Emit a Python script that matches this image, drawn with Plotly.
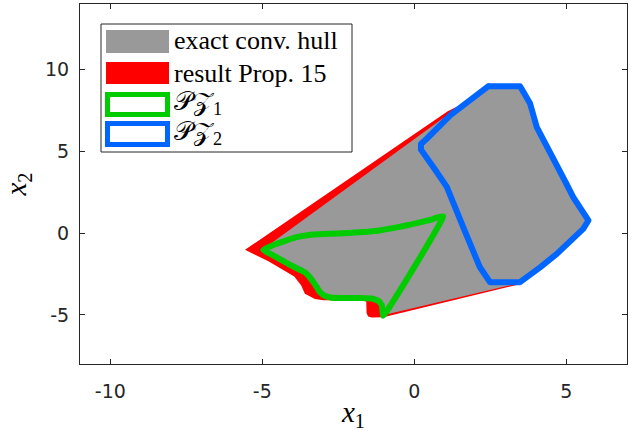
import plotly.graph_objects as go

# ---------------- data ----------------
# PZ1 (green) boundary
pz1_x = [-4.97, -4.53, -3.87, -3.32, -2.77, -2.2, -1.68, -1.2, -0.80, -0.35, 0.08, 0.5, 0.95,
         -1.02, -1.07, -1.18, -1.4, -1.8, -2.3, -2.72, -2.95, -3.10, -3.2, -3.32, -3.45, -3.6,
         -3.9, -4.25, -4.6, -4.97]
pz1_y = [-1.02, -0.65, -0.25, -0.09, -0.04, 0.0, 0.06, 0.14, 0.27, 0.43, 0.61, 0.8, 1.02,
         -5.05, -4.39, -4.14, -4.0, -3.96, -3.96, -3.95, -3.83, -3.62, -3.33, -3.0, -2.67, -2.39,
         -2.12, -1.78, -1.41, -1.02]

# PZ2 (blue) boundary
pz2_x = [2.44, 3.48, 3.65, 3.81, 4.03, 4.57, 5.01, 5.23, 5.45, 5.62, 5.73, 5.56, 5.23, 4.69,
         4.14, 3.48, 2.49, 2.16, 1.61, 1.07, 0.74, 0.41, 0.22, 0.22, 0.4, 1.2, 1.83, 2.44]
pz2_y = [8.98, 8.98, 8.44, 7.92, 6.48, 4.45, 3.0, 2.2, 1.6, 1.2, 0.77, 0.26, -0.35, -1.27,
         -2.09, -3.0, -3.0, -2.09, 0.36, 2.82, 3.73, 4.55, 5.1, 5.45, 5.75, 7.22, 8.12, 8.98]

# exact convex hull (gray)
hull_x = [-5.0, 1.0, 1.2, 1.83, 2.44, 3.48, 3.65, 3.81, 4.03, 4.57, 5.01, 5.23, 5.45, 5.62,
          5.73, 5.56, 5.23, 4.69, 4.14, 3.48, -1.0, -1.07, -1.18, -1.4, -1.8, -2.3, -2.72,
          -2.95, -3.10, -3.2, -3.32, -3.45, -3.6, -3.9, -4.25, -4.6, -5.0]
hull_y = [-1.02, 7.1, 7.22, 8.12, 8.98, 8.98, 8.44, 7.92, 6.48, 4.45, 3.0, 2.2, 1.6, 1.2,
          0.77, 0.26, -0.35, -1.27, -2.09, -3.05, -5.0, -4.39, -4.14, -4.0, -3.96, -3.96, -3.95,
          -3.83, -3.62, -3.33, -3.0, -2.67, -2.39, -2.12, -1.78, -1.41, -1.02]

# result Prop. 15 (red)
prop_x = [-5.57, 1.1, 1.83, 2.44, 3.48, 3.65, 3.81, 4.03, 4.57, 5.01, 5.23, 5.45, 5.62, 5.73,
          5.56, 5.23, 4.69, 4.14, 3.48, -1.02, -1.4, -1.52, -1.57, -1.58, -1.7, -2.99, -3.27,
          -3.6, -3.72, -3.95, -4.80, -5.57]
prop_y = [-1.02, 7.45, 8.12, 8.98, 8.98, 8.44, 7.92, 6.48, 4.45, 3.0, 2.2, 1.6, 1.2, 0.77,
          0.26, -0.35, -1.27, -2.09, -3.12, -5.14, -5.16, -5.1, -4.89, -4.19, -4.11, -4.11, -4.03,
          -3.71, -3.21, -2.65, -1.72, -1.02]

x_ticks = [-10, -5, 0, 5]
y_ticks = [-5, 0, 5, 10]
x_range = [-11, 7]
y_range = [-8, 14]

legend_labels = ["exact conv. hull", "result Prop. 15", "𝒫𝒵<sub>1</sub>", "𝒫𝒵<sub>2</sub>"]

# ---------------- styling ----------------
GRAY = "#999999"
RED = "#ff0000"
GREEN = "#00cc00"
BLUE = "#0066ff"
AX = "#262626"

W, H = 636, 434
L, R, T, B = 80, 9, 4, 70
PW, PH = W - L - R, H - T - B


def pxx(x):
    return (x - L) / PW


def pxy(y):
    return (H - B - y) / PH


fig = go.Figure()
fig.add_trace(go.Scatter(x=prop_x, y=prop_y, mode="lines", fill="toself", fillcolor=RED,
                         line=dict(width=0, color=RED), name="result Prop. 15",
                         hoverinfo="skip", showlegend=False))
fig.add_trace(go.Scatter(x=hull_x, y=hull_y, mode="lines", fill="toself", fillcolor=GRAY,
                         line=dict(width=0, color=GRAY), name="exact conv. hull",
                         hoverinfo="skip", showlegend=False))
fig.add_trace(go.Scatter(x=pz1_x, y=pz1_y, mode="lines",
                         line=dict(width=6, color=GREEN, shape="spline", smoothing=0.3),
                         name="PZ1", hoverinfo="skip", showlegend=False))
fig.add_trace(go.Scatter(x=pz2_x, y=pz2_y, mode="lines", line=dict(width=6, color=BLUE),
                         name="PZ2", hoverinfo="skip", showlegend=False))

# ---------------- manual legend ----------------
shapes = [dict(type="rect", xref="paper", yref="paper", x0=pxx(101), x1=pxx(352),
               y0=pxy(152), y1=pxy(24), fillcolor="white", line=dict(color=AX, width=1),
               layer="above")]
swatches = [
    (106, 30, 169, 53, GRAY, None),
    (106, 62, 169, 84, RED, None),
    (107.5, 94.5, 167.5, 114.5, None, GREEN),
    (107.5, 123.5, 167.5, 144.5, None, BLUE),
]
for x0, y0, x1, y1, fc, lc in swatches:
    if fc is not None:
        shapes.append(dict(type="rect", xref="paper", yref="paper", x0=pxx(x0), x1=pxx(x1),
                           y0=pxy(y1), y1=pxy(y0), fillcolor=fc, line=dict(width=0),
                           layer="above"))
    else:
        shapes.append(dict(type="rect", xref="paper", yref="paper", x0=pxx(x0), x1=pxx(x1),
                           y0=pxy(y1), y1=pxy(y0), fillcolor="white",
                           line=dict(width=5, color=lc), layer="above"))

text_y = [41, 73, 103, 133]
annotations = []
for lab, ty in zip(legend_labels, text_y):
    annotations.append(dict(xref="paper", yref="paper", x=pxx(172), y=pxy(ty), text=lab,
                            showarrow=False, xanchor="left", yanchor="middle",
                            font=dict(family="Liberation Serif", size=26, color="black")))

axis_common = dict(showgrid=False, zeroline=False, showline=True, linecolor=AX, linewidth=1,
                   mirror="ticks", ticks="inside", ticklen=5, tickcolor=AX, tickwidth=1,
                   automargin=False,
                   tickfont=dict(family="DejaVu Sans", size=19, color=AX))

fig.update_layout(
    width=W, height=H,
    margin=dict(l=L, r=R, t=T, b=B, autoexpand=False),
    paper_bgcolor="white", plot_bgcolor="white",
    showlegend=False,
    shapes=shapes,
    annotations=annotations,
    xaxis=dict(range=x_range, tickvals=x_ticks, ticktext=[str(v) for v in x_ticks],
               ticklabelstandoff=10,
               title=dict(text="<i>x</i><sub>1</sub>", standoff=0,
                          font=dict(family="Liberation Serif", size=29, color="black")),
               **axis_common),
    yaxis=dict(range=y_range, tickvals=y_ticks, ticktext=[str(v) for v in y_ticks],
               ticklabelstandoff=6,
               title=dict(text="<i>x</i><sub>2</sub>", standoff=12,
                          font=dict(family="Liberation Serif", size=29, color="black")),
               **axis_common),
)

post = ("document.body.style.margin='0';document.body.style.padding='0';"
        "var gd=document.getElementById('{plot_id}');"
        "gd.querySelectorAll('path.js-line').forEach(function(p){"
        "p.style.strokeLinejoin='round';p.style.strokeLinecap='round';});")
fig.write_html("out.html", post_script=post, config={"displayModeBar": False})
